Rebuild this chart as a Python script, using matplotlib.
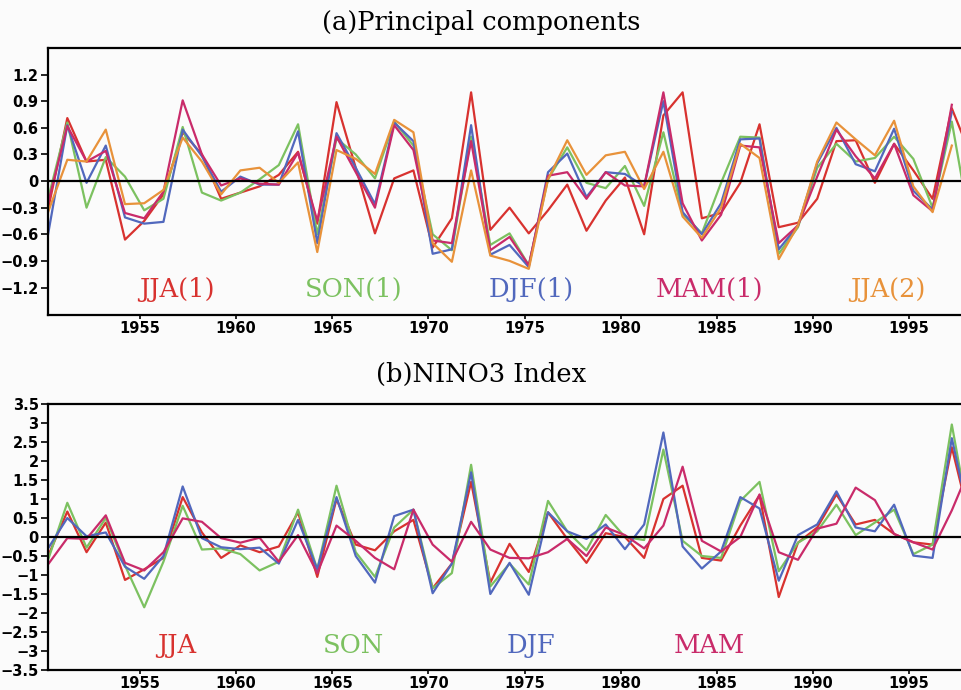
import numpy as np
import matplotlib.pyplot as plt
from matplotlib.ticker import FuncFormatter

years = np.arange(1950, 1999)

# (a) principal components
pc_jja1 = [-0.32, 0.71, 0.22, 0.24, -0.66, -0.45, -0.15, 0.55, 0.30, -0.20,
           -0.13, -0.06, 0.07, 0.33, -0.48, 0.89, 0.15, -0.59, 0.03, 0.12,
           -0.75, -0.42, 1.00, -0.55, -0.30, -0.59, -0.33, -0.04, -0.56, -0.22,
           0.04, -0.60, 0.74, 1.00, -0.42, -0.36, -0.02, 0.64, -0.52, -0.47,
           -0.20, 0.45, 0.46, -0.02, 0.42, 0.12, -0.20, 0.82, 0.28]
pc_son1 = [-0.20, 0.66, -0.30, 0.27, 0.05, -0.33, -0.20, 0.61, -0.13, -0.22,
           -0.13, 0.02, 0.18, 0.64, -0.60, 0.48, 0.30, 0.03, 0.67, 0.40,
           -0.60, -0.78, 0.50, -0.72, -0.59, -0.95, 0.02, 0.38, -0.02, -0.08,
           0.17, -0.28, 0.55, -0.37, -0.59, -0.02, 0.50, 0.49, -0.82, -0.52,
           0.15, 0.42, 0.22, 0.26, 0.50, 0.25, -0.30, 0.67, -0.56]
pc_djf1 = [-0.60, 0.63, -0.02, 0.40, -0.41, -0.48, -0.46, 0.58, 0.28, -0.12,
           0.05, -0.04, -0.04, 0.56, -0.70, 0.54, 0.15, -0.26, 0.66, 0.45,
           -0.82, -0.77, 0.63, -0.83, -0.72, -0.97, 0.10, 0.31, -0.18, 0.10,
           0.08, -0.06, 0.90, -0.35, -0.60, -0.25, 0.47, 0.48, -0.77, -0.50,
           0.20, 0.60, 0.19, 0.11, 0.59, -0.11, -0.32, 0.78, np.nan]
pc_mam1 = [-0.25, 0.62, 0.22, 0.34, -0.36, -0.42, -0.12, 0.91, 0.30, -0.05,
           0.03, -0.03, -0.04, 0.32, -0.45, 0.50, 0.10, -0.30, 0.63, 0.35,
           -0.67, -0.70, 0.45, -0.78, -0.63, -0.95, 0.06, 0.10, -0.20, 0.10,
           -0.05, -0.06, 1.00, -0.25, -0.67, -0.38, 0.40, 0.38, -0.70, -0.50,
           0.05, 0.58, 0.28, 0.03, 0.42, -0.16, -0.34, 0.86, np.nan]
pc_jja2 = [-0.35, 0.24, 0.22, 0.58, -0.26, -0.25, -0.10, 0.49, 0.22, -0.15,
           0.12, 0.15, -0.02, 0.21, -0.80, 0.35, 0.25, 0.08, 0.69, 0.55,
           -0.70, -0.91, 0.12, -0.84, -0.90, -0.99, 0.02, 0.46, 0.07, 0.29,
           0.33, -0.09, 0.33, -0.40, -0.64, -0.30, 0.42, 0.26, -0.88, -0.50,
           0.22, 0.66, 0.47, 0.29, 0.68, -0.06, -0.35, 0.40, np.nan]

# (b) NINO3 index
nino_jja = [-0.50, 0.67, -0.40, 0.38, -1.13, -0.85, -0.55, 1.05, 0.12, -0.55,
            -0.22, -0.40, -0.25, 0.65, -1.05, 1.00, -0.20, -0.35, 0.15, 0.45,
            -1.35, -0.70, 1.45, -1.20, -0.18, -0.92, 0.65, -0.05, -0.68, 0.10,
            0.00, -0.55, 1.00, 1.35, -0.55, -0.62, 0.30, 1.10, -1.58, -0.15,
            0.25, 1.12, 0.33, 0.45, 0.08, -0.14, -0.20, 2.36, 0.30]
nino_son = [-0.60, 0.90, -0.28, 0.50, -0.75, -1.85, -0.65, 0.82, -0.33, -0.30,
            -0.45, -0.88, -0.65, 0.72, -0.85, 1.35, -0.40, -1.05, 0.25, 0.72,
            -1.35, -0.95, 1.90, -1.30, -0.70, -1.25, 0.95, 0.15, -0.35, 0.58,
            0.00, -0.08, 2.30, -0.10, -0.50, -0.55, 0.95, 1.45, -0.90, -0.15,
            0.15, 0.85, 0.05, 0.38, 0.72, -0.45, -0.20, 2.96, 0.17]
nino_djf = [-0.30, 0.50, 0.02, 0.12, -0.78, -1.10, -0.50, 1.33, -0.03, -0.27,
            -0.32, -0.28, -0.70, 0.45, -0.85, 1.05, -0.50, -1.20, 0.55, 0.72,
            -1.48, -0.70, 1.70, -1.50, -0.68, -1.52, 0.65, 0.15, -0.05, 0.33,
            -0.32, 0.33, 2.75, -0.25, -0.83, -0.38, 1.05, 0.75, -1.15, 0.05,
            0.33, 1.20, 0.25, 0.15, 0.85, -0.49, -0.55, 2.60, 0.30]
nino_mam = [-0.72, -0.03, -0.05, 0.57, -0.68, -0.88, -0.40, 0.49, 0.40, -0.03,
            -0.15, -0.02, -0.65, 0.05, -0.95, 0.30, -0.10, -0.55, -0.85, 0.72,
            -0.20, -0.65, 0.40, -0.33, -0.55, -0.56, -0.40, -0.05, -0.50, 0.25,
            0.05, -0.30, 0.30, 1.85, -0.10, -0.38, 0.00, 1.12, -0.40, -0.60,
            0.22, 0.35, 1.30, 0.97, 0.08, -0.14, -0.33, 0.70, 1.90]

pc_labels = ['JJA(1)', 'SON(1)', 'DJF(1)', 'MAM(1)', 'JJA(2)']
nino_labels = ['JJA', 'SON', 'DJF', 'MAM']
label_years = [1956.9, 1966.1, 1975.35, 1984.6, 1993.87]

red = '#d8322f'
green = '#7cc160'
blue = '#5168bd'
magenta = '#c92b6a'
orange = '#e8923a'
bg = '#fbfbfb'

tick_font = ['Liberation Sans Narrow', 'DejaVu Sans']
text_font = ['DejaVu Serif']

# seasonal values sit a little into each year
x = years + 0.22


def fmt(v, pos):
    s = '%g' % round(v, 2)
    return s.replace('-', '\u2212')


def style_axes(ax, ylim, yticks):
    ax.set_facecolor(bg)
    ax.set_xlim(1950.2, 1997.75)
    ax.set_ylim(*ylim)
    ax.set_yticks(yticks)
    ax.set_xticks([1955, 1960, 1965, 1970, 1975, 1980, 1985, 1990, 1995])
    ax.yaxis.set_major_formatter(FuncFormatter(fmt))
    ax.spines['right'].set_visible(False)
    for s in ['left', 'top', 'bottom']:
        ax.spines[s].set_linewidth(1.6)
    ax.tick_params(axis='y', direction='out', length=5, width=1.2, pad=1.5)
    ax.tick_params(axis='x', direction='out', length=3, width=1.2, pad=1)
    for lab in ax.get_xticklabels() + ax.get_yticklabels():
        lab.set_family(tick_font)
        lab.set_fontsize(10.5)
        lab.set_fontweight('bold')
    ax.axhline(0, color='black', lw=1.6, zorder=5)


fig = plt.figure(figsize=(9.62, 6.90), dpi=100, facecolor=bg)
left = 47.7 / 962

ax1 = fig.add_axes([left, 1 - 315 / 690, 1 - left, 267 / 690])
for series, c in zip([pc_jja1, pc_son1, pc_djf1, pc_mam1, pc_jja2],
                     [red, green, blue, magenta, orange]):
    ax1.plot(x, series, color=c, lw=1.6)
style_axes(ax1, (-1.51, 1.5), np.arange(-1.2, 1.21, 0.3))
for lab, yr, c in zip(pc_labels, label_years, [red, green, blue, magenta, orange]):
    ax1.text(yr, -1.31, lab, color=c, ha='center', va='baseline',
             family=text_font, fontsize=18.5)

ax2 = fig.add_axes([left, 1 - 670 / 690, 1 - left, 266 / 690])
for series, c in zip([nino_jja, nino_son, nino_djf, nino_mam],
                     [red, green, blue, magenta]):
    ax2.plot(x, series, color=c, lw=1.6)
style_axes(ax2, (-3.5, 3.5), np.arange(-3.5, 3.51, 0.5))
for lab, yr, c in zip(nino_labels, label_years, [red, green, blue, magenta]):
    ax2.text(yr, -3.06, lab, color=c, ha='center', va='baseline',
             family=text_font, fontsize=18.5)

fig.text(0.5, 1 - 30 / 690, '(a)Principal components', ha='center',
         va='baseline', family=text_font, fontsize=18.5)
fig.text(0.5, 1 - 381.7 / 690, '(b)NINO3 Index', ha='center',
         va='baseline', family=text_font, fontsize=18.5)

plt.savefig('out.png', dpi=100, facecolor=bg)
plt.close()
